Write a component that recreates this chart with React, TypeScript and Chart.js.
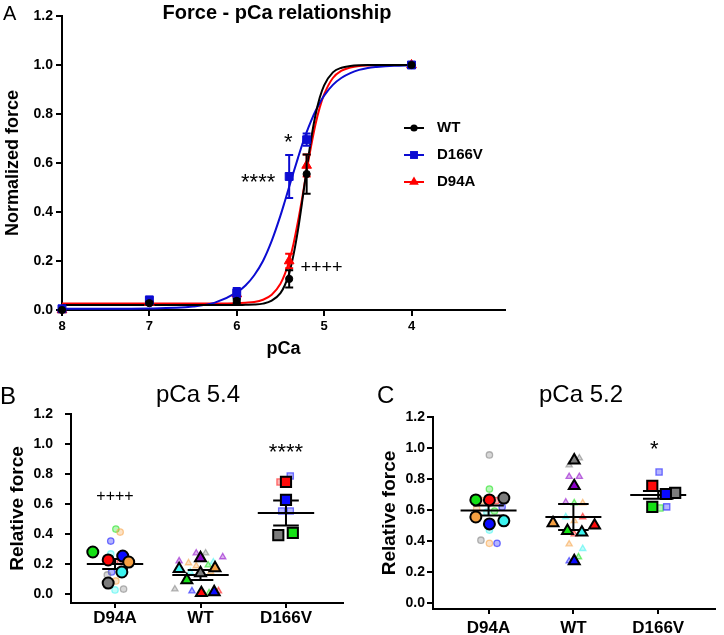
import React, { useEffect, useRef } from 'react';
import { Chart, registerables } from 'chart.js';

Chart.register(...registerables);

const FONT = "'Liberation Sans', Arial, Helvetica, sans-serif";

// ---------------- Panel A data ----------------
const pCaLevels = [8, 7, 6, 5.4, 5.2, 4];
const wtForce = [0.0, 0.028, 0.037, 0.127, 0.555, 1.0];
const wtSem = [0, 0.006, 0.008, 0.035, 0.08, 0];
const d166vForce = [0.005, 0.04, 0.07, 0.545, 0.695, 1.0];
const d166vSem = [0, 0.015, 0.02, 0.088, 0.025, 0];
const d94aForce = [0.0, 0.03, 0.065, 0.2, 0.59, 1.0];
const d94aSem = [0, 0.006, 0.01, 0.03, 0.045, 0];

const fitPCa = [8, 7.5, 7, 6.5, 6.25, 6, 5.9, 5.8, 5.7, 5.6, 5.5, 5.45, 5.4, 5.35, 5.3, 5.25, 5.2, 5.15, 5.1, 5.05, 5.0, 4.9, 4.8, 4.7, 4.6, 4.5, 4.4, 4.2, 4.0];
const wtFit = [0.02, 0.02, 0.02, 0.02, 0.02, 0.02, 0.021, 0.022, 0.026, 0.038, 0.069, 0.101, 0.15, 0.226, 0.325, 0.445, 0.574, 0.695, 0.794, 0.867, 0.917, 0.97, 0.989, 0.996, 0.999, 1.0, 1.0, 1.0, 1.0];
const d166vFit = [0.005, 0.005, 0.006, 0.014, 0.03, 0.072, 0.1, 0.142, 0.2, 0.282, 0.385, 0.443, 0.503, 0.562, 0.62, 0.676, 0.726, 0.771, 0.811, 0.845, 0.875, 0.919, 0.948, 0.967, 0.98, 0.988, 0.992, 0.997, 0.999];
const d94aFit = [0.027, 0.027, 0.027, 0.027, 0.027, 0.028, 0.03, 0.033, 0.042, 0.062, 0.107, 0.146, 0.2, 0.271, 0.36, 0.46, 0.567, 0.667, 0.756, 0.827, 0.88, 0.947, 0.977, 0.99, 0.996, 0.998, 0.999, 1.0, 1.0];

const pCaTicks = [8, 7, 6, 5, 4];
const forceTicks = [0, 0.2, 0.4, 0.6, 0.8, 1.0, 1.2];

// ---------------- Panel B data (pCa 5.4) ----------------
const groupNames = ['D94A', 'WT', 'D166V'];

const bD94aAnimal = [0.28, 0.227, 0.253, 0.213, 0.147, 0.073];
const bD94aAnimalColor = ['green', 'red', 'blue', 'orange', 'cyan', 'gray'];
const bD94aAnimalJitter = [-0.26, -0.08, 0.09, 0.16, 0.08, -0.08];
const bD94aCell = [0.433, 0.413, 0.353, 0.267, 0.215, 0.147, 0.127, 0.087, 0.027, 0.033];
const bD94aCellColor = ['green', 'orange', 'blue', 'cyan', 'red', 'blue', 'gray', 'orange', 'cyan', 'gray'];
const bD94aCellJitter = [0.01, 0.06, -0.05, -0.05, 0.06, -0.04, -0.09, 0.01, 0.0, 0.1];

const bWtAnimal = [0.167, 0.093, 0.24, 0.14, 0.173, 0.007, 0.013];
const bWtAnimalColor = ['cyan', 'green', 'purple', 'gray', 'orange', 'red', 'blue'];
const bWtAnimalJitter = [-0.25, -0.16, 0, 0, 0.17, 0.01, 0.16];
const bWtCell = [0.22, 0.273, 0.273, 0.247, 0.207, 0.187, 0.213, 0.193, 0.147, 0.147, 0.033, 0.02, 0.007, 0.02];
const bWtCellColor = ['purple', 'purple', 'gray', 'purple', 'orange', 'orange', 'cyan', 'green', 'cyan', 'orange', 'gray', 'blue', 'green', 'red'];
const bWtCellJitter = [-0.25, -0.05, 0.06, 0.26, -0.14, -0.05, 0.15, 0.09, -0.12, 0.12, -0.3, -0.1, 0.1, 0.21];

const bD166vAnimal = [0.747, 0.627, 0.393, 0.407];
const bD166vAnimalColor = ['red', 'blue', 'gray', 'green'];
const bD166vAnimalJitter = [0, 0, -0.09, 0.08];
const bD166vCell = [0.787, 0.747, 0.553, 0.553];
const bD166vCellColor = ['blue', 'red', 'blue', 'blue'];
const bD166vCellJitter = [0.05, -0.07, -0.05, 0.05];

const bMeans = [0.2, 0.127, 0.54];
const bSems = [0.033, 0.033, 0.084];

// ---------------- Panel C data (pCa 5.2) ----------------
const cD94aAnimal = [0.665, 0.665, 0.677, 0.555, 0.51, 0.53];
const cD94aAnimalColor = ['green', 'red', 'gray', 'orange', 'blue', 'cyan'];
const cD94aAnimalJitter = [-0.15, 0.01, 0.18, -0.15, 0.01, 0.18];
const cD94aCell = [0.955, 0.735, 0.66, 0.66, 0.62, 0.607, 0.587, 0.593, 0.47, 0.405, 0.385, 0.385];
const cD94aCellColor = ['gray', 'green', 'orange', 'red', 'blue', 'orange', 'cyan', 'green', 'cyan', 'gray', 'orange', 'blue'];
const cD94aCellJitter = [0.01, 0.01, -0.08, 0.09, 0.16, -0.14, -0.02, 0.07, 0.01, -0.09, 0.01, 0.1];

const cWtAnimal = [0.92, 0.755, 0.515, 0.465, 0.455, 0.5, 0.27];
const cWtAnimalColor = ['gray', 'purple', 'orange', 'green', 'cyan', 'red', 'blue'];
const cWtAnimalJitter = [0.01, 0.01, -0.24, -0.07, 0.1, 0.25, 0.01];
const cWtCell = [0.89, 0.935, 0.815, 0.815, 0.65, 0.645, 0.645, 0.555, 0.555, 0.53, 0.445, 0.38, 0.35, 0.297, 0.27];
const cWtCellColor = ['gray', 'gray', 'purple', 'purple', 'purple', 'green', 'orange', 'cyan', 'red', 'orange', 'red', 'orange', 'cyan', 'green', 'blue'];
const cWtCellJitter = [-0.05, 0.07, -0.05, 0.07, -0.09, 0.01, 0.11, -0.09, 0.11, 0.01, 0.01, -0.05, 0.11, 0.06, -0.05];

const cD166vAnimal = [0.755, 0.71, 0.703, 0.62];
const cD166vAnimalColor = ['red', 'gray', 'blue', 'green'];
const cD166vAnimalJitter = [-0.07, 0.2, 0.09, -0.07];
const cD166vCell = [0.845, 0.613, 0.62];
const cD166vCellColor = ['blue', 'green', 'blue'];
const cD166vCellJitter = [0.01, 0.02, 0.1];

const cMeans = [0.597, 0.555, 0.697];
const cSems = [0.032, 0.084, 0.025];

// ---------------- styles ----------------
const PALETTE: any = {
  green: '#14e014',
  red: '#ff0a0a',
  blue: '#0a0aff',
  orange: '#f5a042',
  cyan: '#3cf4f0',
  gray: '#7c7c7c',
  purple: '#8c00c8',
};

function rgba(hex: string, a: number) {
  const n = parseInt(hex.slice(1), 16);
  return `rgba(${n >> 16},${(n >> 8) & 255},${n & 255},${a})`;
}

function drawMarker(ctx: any, style: string, x: number, y: number, r: number) {
  ctx.beginPath();
  if (style === 'circle') {
    ctx.arc(x, y, r, 0, Math.PI * 2);
  } else if (style === 'rect') {
    const s = r * Math.SQRT1_2;
    ctx.rect(x - s, y - s, 2 * s, 2 * s);
  } else {
    ctx.moveTo(x, y - r);
    ctx.lineTo(x + r * Math.sin((2 * Math.PI) / 3), y - r * Math.cos((2 * Math.PI) / 3));
    ctx.lineTo(x + r * Math.sin((4 * Math.PI) / 3), y - r * Math.cos((4 * Math.PI) / 3));
    ctx.closePath();
  }
  ctx.fill();
}

function textPlugin(items: any[]) {
  return {
    id: 'texts',
    afterDraw(chart: any) {
      const ctx = chart.ctx;
      items.forEach((t) => {
        let x = t.x;
        let y = t.y;
        if (t.data) {
          x = chart.scales.x.getPixelForValue(t.x);
          y = chart.scales.y.getPixelForValue(t.y);
        }
        ctx.save();
        ctx.font = `${t.weight || 'normal'} ${t.size}px ${FONT}`;
        ctx.fillStyle = '#000';
        ctx.textAlign = t.align || 'center';
        ctx.textBaseline = 'middle';
        ctx.fillText(t.text, x, y);
        ctx.restore();
      });
    },
  };
}

const errorBarPlugin = {
  id: 'errorBars',
  beforeDatasetDraw(chart: any, args: any) {
    const ds = chart.data.datasets[args.index];
    if (!ds.errors) return;
    const meta = chart.getDatasetMeta(args.index);
    const ys = chart.scales.y;
    const ctx = chart.ctx;
    ctx.save();
    ctx.strokeStyle = ds.errColor;
    ctx.lineWidth = 2;
    meta.data.forEach((pt: any, i: number) => {
      const e = ds.errors[i];
      if (!e) return;
      const v = ds.data[i].y;
      const yt = ys.getPixelForValue(v + e);
      const yb = ys.getPixelForValue(v - e);
      const cap = 4;
      ctx.beginPath();
      ctx.moveTo(pt.x, yt);
      ctx.lineTo(pt.x, yb);
      ctx.moveTo(pt.x - cap, yt);
      ctx.lineTo(pt.x + cap, yt);
      ctx.moveTo(pt.x - cap, yb);
      ctx.lineTo(pt.x + cap, yb);
      ctx.stroke();
    });
    ctx.restore();
  },
};

function legendPlugin(cfg: any) {
  return {
    id: 'sideLegend',
    afterDraw(chart: any) {
      const ctx = chart.ctx;
      cfg.items.forEach((it: any, i: number) => {
        const y = cfg.y + i * cfg.gap;
        ctx.save();
        ctx.strokeStyle = it.color;
        ctx.fillStyle = it.color;
        ctx.lineWidth = 2;
        ctx.beginPath();
        ctx.moveTo(cfg.x1, y);
        ctx.lineTo(cfg.x2, y);
        ctx.stroke();
        drawMarker(ctx, it.style, (cfg.x1 + cfg.x2) / 2, y, it.radius);
        ctx.fillStyle = '#000';
        ctx.font = `bold ${cfg.size}px ${FONT}`;
        ctx.textAlign = 'left';
        ctx.textBaseline = 'middle';
        ctx.fillText(it.label, cfg.textX, y);
        ctx.restore();
      });
    },
  };
}

function meanPlugin(cfg: any) {
  return {
    id: 'meanSem',
    beforeDatasetsDraw(chart: any) {
      chart.$meanDrawn = false;
    },
    beforeDatasetDraw(chart: any, args: any) {
      if (chart.$meanDrawn) return;
      const ds = chart.data.datasets[args.index];
      if (!ds.isAnimal) return;
      chart.$meanDrawn = true;
      const xs = chart.scales.x;
      const ys = chart.scales.y;
      const ctx = chart.ctx;
      ctx.save();
      ctx.strokeStyle = '#000';
      ctx.lineWidth = 2;
      cfg.means.forEach((m: number, g: number) => {
        const s = cfg.sems[g];
        const ym = ys.getPixelForValue(m);
        const yt = ys.getPixelForValue(m + s);
        const yb = ys.getPixelForValue(m - s);
        ctx.beginPath();
        ctx.moveTo(xs.getPixelForValue(g - cfg.meanHalf), ym);
        ctx.lineTo(xs.getPixelForValue(g + cfg.meanHalf), ym);
        ctx.moveTo(xs.getPixelForValue(g - cfg.semHalf), yt);
        ctx.lineTo(xs.getPixelForValue(g + cfg.semHalf), yt);
        ctx.moveTo(xs.getPixelForValue(g - cfg.semHalf), yb);
        ctx.lineTo(xs.getPixelForValue(g + cfg.semHalf), yb);
        ctx.moveTo(xs.getPixelForValue(g), yt);
        ctx.lineTo(xs.getPixelForValue(g), yb);
        ctx.stroke();
      });
      ctx.restore();
    },
  };
}

const axisGrid = (len: number) => ({ drawOnChartArea: false, drawTicks: true, tickLength: len, color: '#000', lineWidth: 2 });
const axisBorder = { display: true, color: '#000', width: 2 };

// ---------------- Panel A ----------------
function PanelA() {
  const ref = useRef<HTMLCanvasElement>(null);
  useEffect(() => {
    const series = [
      { label: 'WT', values: wtForce, sem: wtSem, fit: wtFit, color: '#000000', style: 'circle', radius: 3.6 },
      { label: 'D166V', values: d166vForce, sem: d166vSem, fit: d166vFit, color: '#0c0cd2', style: 'rect', radius: 5.6 },
      { label: 'D94A', values: d94aForce, sem: d94aSem, fit: d94aFit, color: '#ff0000', style: 'triangle', radius: 5.6 },
    ];
    const pointSets = series.map((s) => ({
      label: s.label,
      data: pCaLevels.map((p, i) => ({ x: p, y: s.values[i] })),
      showLine: false,
      pointStyle: s.style,
      pointRadius: s.radius,
      pointBackgroundColor: s.color,
      pointBorderColor: s.color,
      pointBorderWidth: 1,
      errors: s.sem,
      errColor: s.color,
      clip: false,
    }));
    const curveSets = series.map((s) => ({
      label: s.label + ' fit',
      data: fitPCa.map((p, i) => ({ x: p, y: s.fit[i] })),
      borderColor: s.color,
      borderWidth: 2,
      pointRadius: 0,
      cubicInterpolationMode: 'monotone',
      fill: false,
      clip: false,
    }));
    const chart = new Chart(ref.current as any, {
      type: 'line',
      data: { datasets: [...pointSets, ...curveSets] as any },
      options: {
        responsive: false,
        animation: false,
        events: [],
        layout: { padding: { left: 0, top: 16, right: 219, bottom: 0 } },
        plugins: { legend: { display: false }, tooltip: { enabled: false }, title: { display: false } },
        scales: {
          x: {
            type: 'linear',
            reverse: true,
            min: 2.93,
            max: 8,
            afterBuildTicks: (s: any) => { s.ticks = pCaTicks.map((v) => ({ value: v })); },
            afterFit: (s: any) => { s.height = 50; },
            ticks: { autoSkip: false, maxRotation: 0, padding: 3, color: '#000', font: { family: FONT, size: 13, weight: 'bold' }, callback: (v: any) => String(v) },
            grid: axisGrid(6),
            border: axisBorder,
            title: { display: true, text: 'pCa', color: '#000', font: { family: FONT, size: 18, weight: 'bold' }, padding: { top: 0, bottom: 0 } },
          },
          y: {
            min: 0,
            max: 1.2,
            afterBuildTicks: (s: any) => { s.ticks = forceTicks.map((v) => ({ value: v })); },
            afterFit: (s: any) => { s.width = 62; },
            ticks: { autoSkip: false, padding: 3, color: '#000', font: { family: FONT, size: 14, weight: 'bold' }, callback: (v: any) => Number(v).toFixed(1) },
            grid: axisGrid(6),
            border: axisBorder,
            title: { display: true, text: 'Normalized force', color: '#000', font: { family: FONT, size: 18, weight: 'bold' }, padding: { top: 2, bottom: 0 } },
          },
        },
      } as any,
      plugins: [
        errorBarPlugin,
        legendPlugin({
          x1: 404, x2: 424, textX: 437, y: 128, gap: 27, size: 15,
          items: series.map((s) => ({ label: s.label, color: s.color, style: s.style, radius: s.radius })),
        }),
        textPlugin([
          { text: 'A', x: 3, y: 14, size: 20, align: 'left' },
          { text: 'Force - pCa relationship', x: 277, y: 13, size: 20, weight: 'bold' },
          { text: '*', x: 5.41, y: 0.68, size: 22, data: true },
          { text: '****', x: 5.755, y: 0.52, size: 22, data: true },
          { text: '++++', x: 5.03, y: 0.17, size: 18, data: true },
        ]),
      ] as any,
    });
    return () => chart.destroy();
  }, []);
  return <canvas ref={ref} width={724} height={360} style={{ position: 'absolute', left: 0, top: 0, width: 724, height: 360 }} />;
}

// ---------------- Dot panels ----------------
const bigR: any = { circle: 5.5, triangle: 6.3, rect: 7.2 };
const smallR: any = { circle: 3.2, triangle: 3.6, rect: 4.4 };
const groupStyle = ['circle', 'triangle', 'rect'];

const specB = {
  groups: [
    { animal: bD94aAnimal, animalColor: bD94aAnimalColor, animalJitter: bD94aAnimalJitter, cell: bD94aCell, cellColor: bD94aCellColor, cellJitter: bD94aCellJitter },
    { animal: bWtAnimal, animalColor: bWtAnimalColor, animalJitter: bWtAnimalJitter, cell: bWtCell, cellColor: bWtCellColor, cellJitter: bWtCellJitter },
    { animal: bD166vAnimal, animalColor: bD166vAnimalColor, animalJitter: bD166vAnimalJitter, cell: bD166vCell, cellColor: bD166vCellColor, cellJitter: bD166vCellJitter },
  ],
  means: bMeans,
  sems: bSems,
  xMin: -0.515, xMax: 2.667, yMin: -0.06, yMax: 1.2,
  padTop: 54, padRight: 19, yWidth: 71, xHeight: 32, yTickPad: 12, xTickPad: 0, yTitlePad: 6,
  meanHalf: 0.33, semHalf: 0.15,
  texts: [
    { text: 'B', x: 0, y: 37, size: 24, align: 'left' },
    { text: 'pCa 5.4', x: 198, y: 35, size: 24 },
    { text: '++++', x: 0, y: 0.647, size: 16, data: true },
    { text: '****', x: 2, y: 0.94, size: 22, data: true },
  ],
};

const specC = {
  groups: [
    { animal: cD94aAnimal, animalColor: cD94aAnimalColor, animalJitter: cD94aAnimalJitter, cell: cD94aCell, cellColor: cD94aCellColor, cellJitter: cD94aCellJitter },
    { animal: cWtAnimal, animalColor: cWtAnimalColor, animalJitter: cWtAnimalJitter, cell: cWtCell, cellColor: cWtCellColor, cellJitter: cWtCellJitter },
    { animal: cD166vAnimal, animalColor: cD166vAnimalColor, animalJitter: cD166vAnimalJitter, cell: cD166vCell, cellColor: cD166vCellColor, cellJitter: cD166vCellJitter },
  ],
  means: cMeans,
  sems: cSems,
  xMin: -0.655, xMax: 2.667, yMin: -0.039, yMax: 1.2,
  padTop: 57, padRight: 2, yWidth: 71, xHeight: 26, yTickPad: 2, xTickPad: 4, yTitlePad: 16,
  meanHalf: 0.33, semHalf: 0.18,
  texts: [
    { text: 'C', x: 15, y: 36, size: 24, align: 'left' },
    { text: 'pCa 5.2', x: 219, y: 35, size: 24 },
    { text: '*', x: 1.955, y: 0.987, size: 22, data: true },
  ],
};

function DotPanel({ spec, left, top }: any) {
  const ref = useRef<HTMLCanvasElement>(null);
  useEffect(() => {
    const animalSets = spec.groups.map((g: any, gi: number) => ({
      isAnimal: true,
      data: g.animal.map((v: number, i: number) => ({ x: gi + g.animalJitter[i], y: v })),
      showLine: false,
      pointStyle: groupStyle[gi],
      pointRadius: bigR[groupStyle[gi]],
      pointBackgroundColor: g.animalColor.map((c: string) => PALETTE[c]),
      pointBorderColor: '#000',
      pointBorderWidth: 2,
      clip: false,
    }));
    const cellSets = spec.groups.map((g: any, gi: number) => ({
      data: g.cell.map((v: number, i: number) => ({ x: gi + g.cellJitter[i], y: v })),
      showLine: false,
      pointStyle: groupStyle[gi],
      pointRadius: smallR[groupStyle[gi]],
      pointBackgroundColor: g.cellColor.map((c: string) => rgba(PALETTE[c], 0.3)),
      pointBorderColor: g.cellColor.map((c: string) => rgba(PALETTE[c], 0.55)),
      pointBorderWidth: 1.3,
      clip: false,
    }));
    const chart = new Chart(ref.current as any, {
      type: 'line',
      data: { datasets: [...animalSets, ...cellSets] },
      options: {
        responsive: false,
        animation: false,
        events: [],
        layout: { padding: { left: 0, top: spec.padTop, right: spec.padRight, bottom: 0 } },
        plugins: { legend: { display: false }, tooltip: { enabled: false }, title: { display: false } },
        scales: {
          x: {
            type: 'linear',
            min: spec.xMin,
            max: spec.xMax,
            afterBuildTicks: (s: any) => { s.ticks = groupNames.map((_n, i) => ({ value: i })); },
            afterFit: (s: any) => { s.height = spec.xHeight; },
            ticks: { autoSkip: false, maxRotation: 0, padding: spec.xTickPad, color: '#000', font: { family: FONT, size: 17, weight: 'bold' }, callback: (_v: any, i: number) => groupNames[i] },
            grid: axisGrid(5),
            border: axisBorder,
          },
          y: {
            min: spec.yMin,
            max: spec.yMax,
            afterBuildTicks: (s: any) => { s.ticks = forceTicks.map((v) => ({ value: v })); },
            afterFit: (s: any) => { s.width = spec.yWidth; },
            ticks: { autoSkip: false, padding: spec.yTickPad, color: '#000', font: { family: FONT, size: 14, weight: 'bold' }, callback: (v: any) => Number(v).toFixed(1) },
            grid: axisGrid(6),
            border: axisBorder,
            title: { display: true, text: 'Relative force', color: '#000', font: { family: FONT, size: 19, weight: 'bold' }, padding: { top: spec.yTitlePad, bottom: 0 } },
          },
        },
      } as any,
      plugins: [meanPlugin({ means: spec.means, sems: spec.sems, meanHalf: spec.meanHalf, semHalf: spec.semHalf }), textPlugin(spec.texts)] as any,
    });
    return () => chart.destroy();
  }, [spec]);
  return <canvas ref={ref} width={362} height={275} style={{ position: 'absolute', left, top, width: 362, height: 275 }} />;
}

export default function App() {
  return (
    <div style={{ position: 'absolute', left: 0, top: 0, width: 724, height: 635, background: '#fff', overflow: 'hidden' }}>
      <PanelA />
      <DotPanel spec={specB} left={0} top={360} />
      <DotPanel spec={specC} left={362} top={360} />
    </div>
  );
}
